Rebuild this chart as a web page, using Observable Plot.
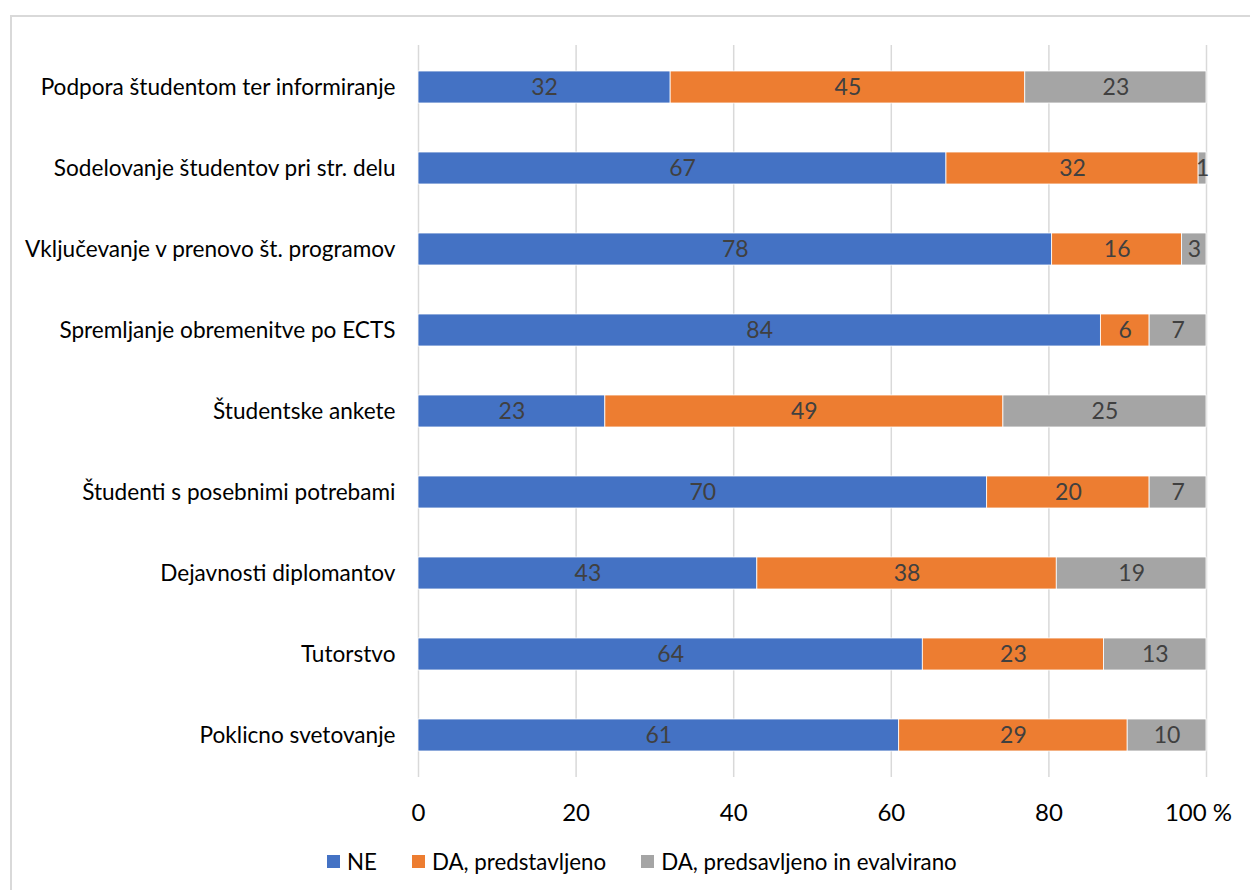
<!DOCTYPE html>
<html>
<head>
<meta charset="utf-8">
<script src="https://cdn.jsdelivr.net/npm/d3@7"></script>
<script src="https://cdn.jsdelivr.net/npm/@observablehq/plot@0.6"></script>
<style>
  html, body { margin: 0; padding: 0; background: #fff; width: 1250px; height: 890px; overflow: hidden; font-family: Lato, "Open Sans", sans-serif; }
  #frame { position: absolute; left: 10px; top: 15px; width: 1300px; height: 950px; border: 2px solid #d9d9d9; box-sizing: border-box; }
  #chart { position: absolute; left: 0; top: 0; }
  #legend { position: absolute; left: 327px; top: 848px; display: flex; align-items: center; font-size: 22.3px; color: #000; font-family: Lato, sans-serif; }
  .item { display: flex; align-items: center; margin-right: 35px; }
  .sw { width: 13px; height: 13px; margin-right: 7px; }
</style>
</head>
<body>
<div id="frame"></div>
<div id="chart"></div>
<div id="legend"></div>
<script>
const categories = [
  "Podpora študentom ter informiranje",
  "Sodelovanje študentov pri str. delu",
  "Vključevanje v prenovo št. programov",
  "Spremljanje obremenitve po ECTS",
  "Študentske ankete",
  "Študenti s posebnimi potrebami",
  "Dejavnosti diplomantov",
  "Tutorstvo",
  "Poklicno svetovanje"
];
const seriesNames = ["NE", "DA, predstavljeno", "DA, predsavljeno in evalvirano"];
const valuesNE = [32, 67, 78, 84, 23, 70, 43, 64, 61];
const valuesPredstavljeno = [45, 32, 16, 6, 49, 20, 38, 23, 29];
const valuesEvalvirano = [23, 1, 3, 7, 25, 7, 19, 13, 10];
const colors = ["#4472C4", "#ED7D31", "#A5A5A5"];
const xTicks = [0, 20, 40, 60, 80];
const xTickLast = [100];

const seriesValues = [valuesNE, valuesPredstavljeno, valuesEvalvirano];
const data = [];
seriesNames.forEach((s, si) => {
  categories.forEach((c, ci) => {
    data.push({cat: c, series: s, value: seriesValues[si][ci]});
  });
});

const frac = t => t / 100;
const stackOpts = {offset: "normalize", x: "value", y: "cat", z: "series", order: seriesNames};

const chart = Plot.plot({
  width: 1250,
  height: 890,
  marginLeft: 418,
  marginRight: 44,
  marginTop: 45,
  marginBottom: 113,
  style: {fontFamily: "Lato, sans-serif", background: "transparent"},
  x: {domain: [0, 1], label: null},
  y: {domain: categories, paddingInner: 0.607, paddingOuter: 0.3035, label: null},
  color: {domain: seriesNames, range: colors},
  marks: [
    Plot.gridX([...xTicks, ...xTickLast].map(frac), {stroke: "#d9d9d9", strokeOpacity: 1, strokeWidth: 1.5}),
    Plot.barX(data, Plot.stackX({...stackOpts, fill: "series", stroke: "white", strokeWidth: 0.8})),
    Plot.textX(data, Plot.stackX({...stackOpts, text: d => String(d.value), fill: "#404040", fontSize: 23})),
    Plot.axisY({tickSize: 0, tickPadding: 23, fontSize: 22.6, color: "#000"}),
    Plot.axisX(xTicks.map(frac), {tickSize: 0, tickPadding: 26, fontSize: 24, color: "#000", tickFormat: d => String(Math.round(d * 100))}),
    Plot.axisX(xTickLast.map(frac), {tickSize: 0, tickPadding: 26, fontSize: 24, color: "#000", dx: -8, tickFormat: d => Math.round(d * 100) + " %"})
  ]
});
document.getElementById("chart").appendChild(chart);

const legend = document.getElementById("legend");
seriesNames.forEach((s, i) => {
  const item = document.createElement("div");
  item.className = "item";
  const sw = document.createElement("div");
  sw.className = "sw";
  sw.style.background = colors[i];
  const lab = document.createElement("span");
  lab.textContent = s;
  item.appendChild(sw);
  item.appendChild(lab);
  legend.appendChild(item);
});
</script>
</body>
</html>
